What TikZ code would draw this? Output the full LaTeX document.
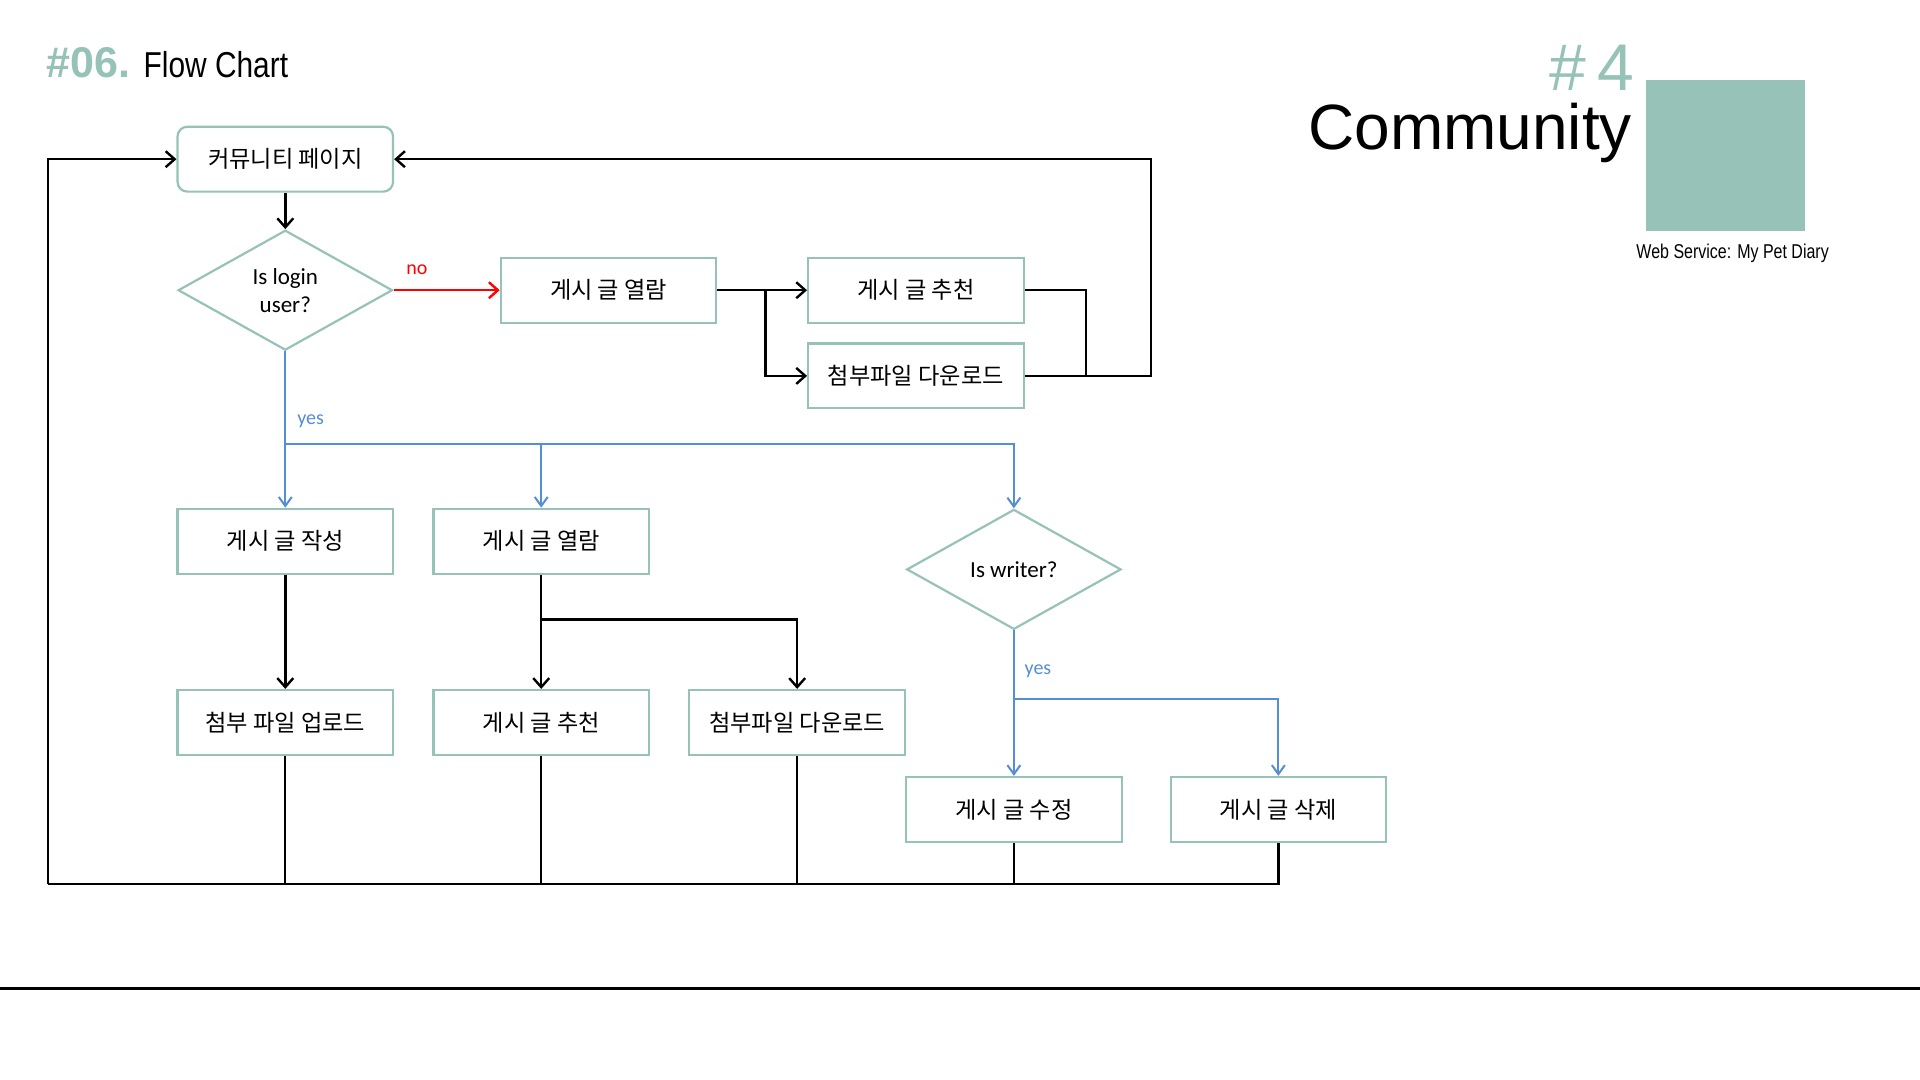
\documentclass[tikz,border=0pt]{standalone}
\usepackage{fontspec}
\setmainfont{Carlito}
\newfontfamily\kr{Noto Sans CJK KR}
\newfontfamily\arial{Liberation Sans}
\newfontfamily\arialn[FakeStretch=0.83]{Liberation Sans}
\newfontfamily\arialw[FakeStretch=0.8]{Liberation Sans}
\usetikzlibrary{shapes.geometric,arrows.meta}
\newlength\pxu
\setlength\pxu{0.6122pt}
\definecolor{tealc}{RGB}{150,194,183}
\definecolor{bluec}{RGB}{85,142,213}
\definecolor{redc}{RGB}{255,0,0}
\tikzset{
  box/.style={draw=tealc, line width=1.1pt, minimum width=176\pxu, minimum height=53\pxu,
    inner sep=0pt, fill=white, font=\kr\fontsize{11.6}{14}\selectfont},
  rbox/.style={box, rounded corners=8\pxu},
  dia/.style={diamond, draw=tealc, line width=1.1pt, shape aspect=1.786,
    minimum width=175\pxu, minimum height=98\pxu, inner sep=0pt, fill=white,
    align=center, font=\fontsize{11.5}{14}\selectfont},
  blk/.style={line width=1.2pt, draw=black},
  thinblk/.style={line width=0.9pt, draw=black},
  bl/.style={line width=1pt, draw=bluec},
  rd/.style={line width=1.2pt, draw=redc},
  arr/.style={-{Straight Barb[length=4.5pt,width=8pt]}},
  barr/.style={-{Straight Barb[length=4.5pt,width=6.5pt]}},
  lbl/.style={inner sep=0pt, font=\fontsize{10}{12}\selectfont},
}
\begin{document}
\begin{tikzpicture}[x=0.6122pt,y=-0.6122pt]
\useasboundingbox (0,0) rectangle (1568,882);
\fill[white] (0,0) rectangle (1568,882);

% header
\node[anchor=base west, inner sep=0pt, text=tealc, font=\arial\bfseries\fontsize{21.5}{21.5}\selectfont] (t06) at (38,63) {\#06.};
\node[anchor=base west, inner sep=0pt, font=\arialn\fontsize{18}{18}\selectfont] (tfc) at (117,63) {Flow Chart};
\node[anchor=base east, inner sep=0pt, text=tealc, font=\arial\fontsize{33}{33}\selectfont] (t4) at (1335,74) {\#\,4};
\node[anchor=base east, inner sep=0pt, font=\arial\fontsize{32}{32}\selectfont] (tcomm) at (1333,122) {Community};
\fill[tealc] (1344,65) rectangle (1474,189);
\node[anchor=base, inner sep=0pt, font=\arialw\fontsize{10}{10}\selectfont] (tweb) at (1415,211) {Web Service: My Pet Diary};
\draw[line width=1.4pt] (0,807) -- (1568,807);

% nodes
\node[rbox] (comm) at (233,130) {커뮤니티 페이지};
\node[dia] (login) at (233,237) {Is login\\user?};
\node[box] (view1) at (497,237) {게시 글 열람};
\node[box] (rec1) at (748,237) {게시 글 추천};
\node[box] (down1) at (748,307) {첨부파일 다운로드};
\node[box] (write) at (233,442) {게시 글 작성};
\node[box] (view2) at (442,442) {게시 글 열람};
\node[dia] (writer) at (828,465) {Is writer?};
\node[box] (upload) at (233,590) {첨부 파일 업로드};
\node[box] (rec2) at (442,590) {게시 글 추천};
\node[box] (down2) at (651,590) {첨부파일 다운로드};
\node[box] (edit) at (828,661) {게시 글 수정};
\node[box] (del) at (1044,661) {게시 글 삭제};

% junctions
\coordinate (j1) at (625,237);
\coordinate (j2) at (887,307);
\coordinate (j3) at (940,307);
\coordinate (jb) at (233,363);
\coordinate (j4) at (442,506);
\coordinate (j5) at (828,571);
\coordinate (fb) at (39,722);

% connectors
\draw[blk,arr] (comm.south) -- (login.north);
\draw[rd,arr] (login.east) -- node[lbl, pos=0.22, above=7pt, text=redc] {no} (view1.west);
\draw[blk,arr] (view1.east) -- (rec1.west);
\draw[blk,arr] (j1) |- (down1.west);
\draw[blk] (rec1.east) -| (j2);
\draw[blk,arr] (down1.east) -- (j3) |- (comm.east);
\draw[bl,barr] (login.south) -- node[lbl, pos=0.45, right=9\pxu, text=bluec] {yes} (write.north);
\draw[bl,barr] (jb) -| (view2.north);
\draw[bl,barr] (jb) -| (writer.north);
\draw[blk,arr] (write.south) -- (upload.north);
\draw[blk,arr] (view2.south) -- (rec2.north);
\draw[blk,arr] (j4) -| (down2.north);
\draw[bl,barr] (writer.south) -- node[lbl, pos=0.28, right=8\pxu, text=bluec] {yes} (edit.north);
\draw[bl,barr] (j5) -| (del.north);
\draw[blk] (del.south) |- (fb);
\draw[blk,arr] (fb) |- (comm.west);
\draw[thinblk] (upload.south) -- (upload.south |- fb);
\draw[thinblk] (rec2.south) -- (rec2.south |- fb);
\draw[thinblk] (down2.south) -- (down2.south |- fb);
\draw[thinblk] (edit.south) -- (edit.south |- fb);
\end{tikzpicture}
\end{document}
